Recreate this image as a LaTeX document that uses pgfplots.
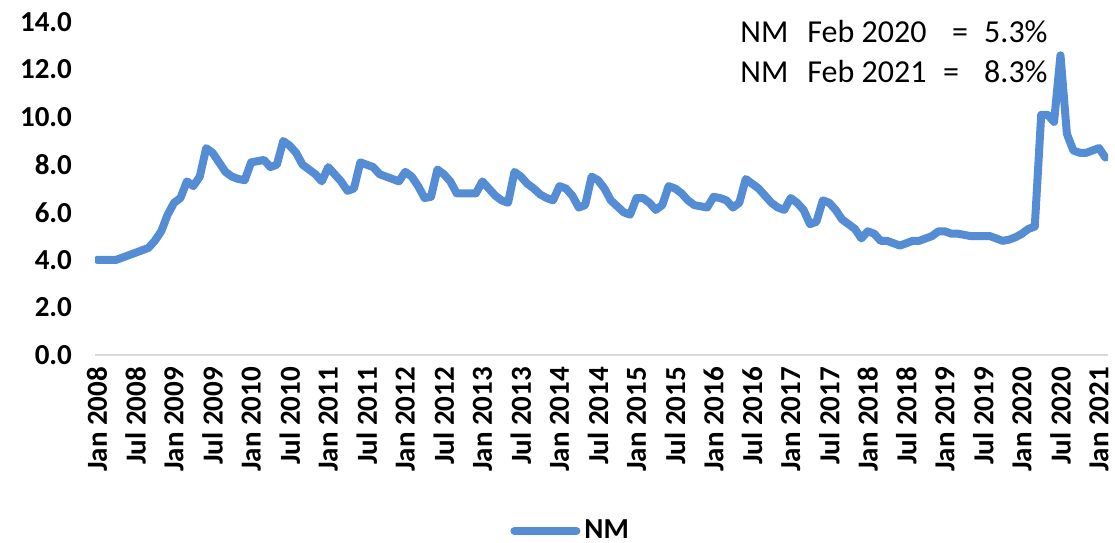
\documentclass[border=0pt]{standalone}
\usepackage{fontspec}
\setmainfont{Carlito}
\usepackage{pgfplots}
\pgfplotsset{compat=1.18}
\definecolor{nmblue}{RGB}{84,141,212}
\definecolor{axgray}{RGB}{217,217,217}
\begin{document}
\begin{tikzpicture}[x=1pt,y=1pt]
\path[use as bounding box] (0,0) rectangle (557.5,271);
\begin{axis}[
  at={(47.5pt,93.5pt)}, anchor=south west,
  scale only axis, width=506.5pt, height=166.5pt,
  xmin=-0.31, xmax=157.4, ymin=0, ymax=14,
  axis x line=bottom, axis y line=left,
  x axis line style={-, draw=axgray, line width=0.75pt},
  y axis line style={draw=none},
  major tick length=0pt,
  xtick={0,6,...,156},
  xticklabels={Jan 2008,Jul 2008,Jan 2009,Jul 2009,Jan 2010,Jul 2010,Jan 2011,Jul 2011,Jan 2012,Jul 2012,Jan 2013,Jul 2013,Jan 2014,Jul 2014,Jan 2015,Jul 2015,Jan 2016,Jul 2016,Jan 2017,Jul 2017,Jan 2018,Jul 2018,Jan 2019,Jul 2019,Jan 2020,Jul 2020,Jan 2021},
  ytick={0,2,...,14},
  tick label style={font=\bfseries\fontsize{14.5}{17}\selectfont},
  x tick label style={yshift=-2.5pt, rotate=90, anchor=east},
  y tick label style={xshift=-8pt, /pgf/number format/.cd, fixed, fixed zerofill, precision=1, assume math mode=true},
  legend style={at={(axis description cs:0.4097,-0.5285)}, anchor=west, draw=none, fill=none, inner sep=0pt,
    font=\bfseries\fontsize{14.5}{17}\selectfont},
  legend image code/.code={\draw[#1, line cap=round] (0pt,0pt) -- (31pt,0pt);},
  legend cell align=left,
]
\addplot[nmblue, line width=4pt, line join=round, line cap=round] table {
0 4.0
1 4.0
2 4.0
3 4.0
4 4.1
5 4.2
6 4.3
7 4.4
8 4.5
9 4.8
10 5.2
11 5.9
12 6.4
13 6.6
14 7.3
15 7.1
16 7.5
17 8.7
18 8.5
19 8.1
20 7.7
21 7.5
22 7.4
23 7.35
24 8.1
25 8.15
26 8.2
27 7.9
28 8.0
29 9.0
30 8.8
31 8.5
32 8.0
33 7.8
34 7.6
35 7.3
36 7.9
37 7.6
38 7.3
39 6.9
40 7.0
41 8.1
42 8.0
43 7.9
44 7.6
45 7.5
46 7.4
47 7.3
48 7.7
49 7.5
50 7.1
51 6.6
52 6.65
53 7.8
54 7.6
55 7.3
56 6.8
57 6.8
58 6.8
59 6.8
60 7.3
61 7.0
62 6.7
63 6.5
64 6.4
65 7.7
66 7.5
67 7.2
68 7.0
69 6.75
70 6.6
71 6.5
72 7.1
73 7.0
74 6.7
75 6.2
76 6.3
77 7.5
78 7.35
79 7.0
80 6.5
81 6.25
82 6.0
83 5.9
84 6.6
85 6.6
86 6.4
87 6.1
88 6.3
89 7.1
90 7.0
91 6.8
92 6.5
93 6.3
94 6.25
95 6.2
96 6.65
97 6.6
98 6.5
99 6.2
100 6.4
101 7.4
102 7.2
103 7.0
104 6.7
105 6.4
106 6.2
107 6.1
108 6.6
109 6.4
110 6.1
111 5.5
112 5.6
113 6.5
114 6.4
115 6.1
116 5.7
117 5.5
118 5.3
119 4.9
120 5.2
121 5.1
122 4.8
123 4.8
124 4.7
125 4.6
126 4.7
127 4.8
128 4.8
129 4.9
130 5.0
131 5.2
132 5.2
133 5.1
134 5.1
135 5.05
136 5.0
137 5.0
138 5.0
139 5.0
140 4.9
141 4.8
142 4.85
143 4.95
144 5.1
145 5.3
146 5.4
147 10.1
148 10.1
149 9.8
150 12.6
151 9.3
152 8.6
153 8.5
154 8.5
155 8.6
156 8.7
157 8.3
};
\addlegendentry{NM}
\end{axis}
\begin{scope}[every node/.style={inner sep=0pt, font=\fontsize{16}{19}\selectfont}]
\node[anchor=base west] at (370,249.5) {NM};
\node[anchor=base west] at (403.5,249.5) {Feb 2020};
\node[anchor=base] at (480,249.5) {=};
\node[anchor=base east] at (524,249.5) {5.3\%};
\node[anchor=base west] at (370,229.5) {NM};
\node[anchor=base west] at (403.5,229.5) {Feb 2021};
\node[anchor=base] at (475.5,229.5) {=};
\node[anchor=base east] at (524,229.5) {8.3\%};
\end{scope}
\end{tikzpicture}
\end{document}
